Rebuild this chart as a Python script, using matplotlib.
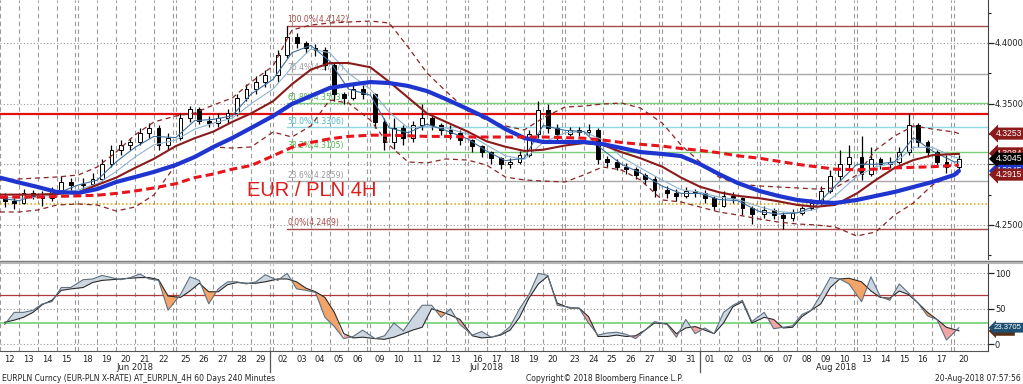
import numpy as np
import pandas as pd
import matplotlib
matplotlib.use("Agg")
import matplotlib.pyplot as plt
from matplotlib.lines import Line2D
from matplotlib.transforms import blended_transform_factory

# ---------------- data ----------------
trading_days = pd.bdate_range("2018-06-12", "2018-08-20")
day_labels = [d.strftime("%d") for d in trading_days]
month_labels = ["Jun 2018", "Jul 2018", "Aug 2018"]

first_open = 4.272
close = [4.270, 4.268, 4.276, 4.274, 4.272, 4.278, 4.285, 4.283, 4.284, 4.288,
         4.300, 4.312, 4.316, 4.318, 4.326, 4.330, 4.316, 4.322, 4.338, 4.346,
         4.336, 4.334, 4.338, 4.342, 4.355, 4.362, 4.368, 4.374, 4.390, 4.405,
         4.400, 4.396, 4.394, 4.382, 4.358, 4.355, 4.362, 4.358, 4.335, 4.318,
         4.330, 4.322, 4.332, 4.338, 4.332, 4.328, 4.326, 4.320, 4.315, 4.310,
         4.305, 4.300, 4.302, 4.308, 4.325, 4.345, 4.330, 4.325, 4.328, 4.327,
         4.328, 4.304, 4.302, 4.298, 4.296, 4.291, 4.288, 4.279, 4.276, 4.274,
         4.278, 4.276, 4.272, 4.266, 4.274, 4.272, 4.264, 4.259, 4.262, 4.258,
         4.256, 4.260, 4.264, 4.268, 4.278, 4.290, 4.300, 4.306, 4.292, 4.304,
         4.300, 4.302, 4.310, 4.332, 4.318, 4.310, 4.302, 4.298, 4.3045]
high = [4.276, 4.274, 4.280, 4.279, 4.278, 4.281, 4.290, 4.289, 4.289, 4.293,
        4.304, 4.316, 4.320, 4.322, 4.330, 4.334, 4.332, 4.326, 4.342, 4.348,
        4.347, 4.340, 4.342, 4.346, 4.358, 4.366, 4.373, 4.378, 4.394, 4.414,
        4.408, 4.402, 4.399, 4.397, 4.384, 4.360, 4.366, 4.365, 4.359, 4.338,
        4.338, 4.332, 4.336, 4.350, 4.340, 4.334, 4.332, 4.328, 4.321, 4.316,
        4.311, 4.306, 4.305, 4.311, 4.328, 4.352, 4.350, 4.333, 4.331, 4.331,
        4.333, 4.330, 4.307, 4.304, 4.301, 4.298, 4.293, 4.290, 4.282, 4.280,
        4.281, 4.280, 4.279, 4.274, 4.278, 4.277, 4.273, 4.266, 4.266, 4.264,
        4.261, 4.263, 4.266, 4.271, 4.282, 4.295, 4.312, 4.316, 4.323, 4.314,
        4.306, 4.306, 4.314, 4.342, 4.334, 4.320, 4.312, 4.308, 4.308]
low = [4.265, 4.263, 4.267, 4.271, 4.266, 4.270, 4.276, 4.279, 4.279, 4.282,
       4.286, 4.298, 4.308, 4.312, 4.316, 4.322, 4.312, 4.312, 4.320, 4.335,
       4.333, 4.331, 4.331, 4.334, 4.340, 4.352, 4.358, 4.364, 4.368, 4.388,
       4.396, 4.392, 4.389, 4.378, 4.352, 4.350, 4.353, 4.354, 4.330, 4.312,
       4.313, 4.316, 4.318, 4.328, 4.328, 4.324, 4.321, 4.316, 4.310, 4.306,
       4.300, 4.296, 4.297, 4.300, 4.306, 4.322, 4.326, 4.318, 4.323, 4.323,
       4.324, 4.300, 4.298, 4.295, 4.292, 4.288, 4.284, 4.273, 4.272, 4.270,
       4.272, 4.273, 4.268, 4.262, 4.265, 4.268, 4.258, 4.251, 4.256, 4.255,
       4.247, 4.253, 4.258, 4.262, 4.266, 4.276, 4.286, 4.296, 4.287, 4.290,
       4.296, 4.297, 4.300, 4.308, 4.314, 4.306, 4.298, 4.293, 4.294]

# indicator lines sampled at each day start (+ last bar)
ma_thick_blue = [4.289, 4.285, 4.2813, 4.2772, 4.2764, 4.2796, 4.2854, 4.2895, 4.2937, 4.2994,
                 4.306, 4.3143, 4.3217, 4.330, 4.3398, 4.3497, 4.3563, 4.3629, 4.3654, 4.3678,
                 4.367, 4.3646, 4.3604, 4.3538, 4.3456, 4.3382, 4.3291, 4.3217, 4.3184, 4.3184,
                 4.3184, 4.3167, 4.3134, 4.3101, 4.3085, 4.3068, 4.3002, 4.292, 4.2846, 4.278,
                 4.2739, 4.2706, 4.2689, 4.2681, 4.2706, 4.2739, 4.2772, 4.2813, 4.2854, 4.2912,
                 4.2945]
ma_red_dashed = [4.273, 4.273, 4.273, 4.2735, 4.274, 4.2745, 4.276, 4.278, 4.2805, 4.284,
                 4.289, 4.292, 4.296, 4.299, 4.307, 4.314, 4.318, 4.321, 4.323, 4.324,
                 4.324, 4.3235, 4.323, 4.323, 4.3225, 4.3225, 4.3225, 4.3225, 4.3225, 4.322,
                 4.3215, 4.320, 4.318, 4.3165, 4.315, 4.313, 4.3115, 4.3095, 4.307, 4.305,
                 4.3025, 4.300, 4.298, 4.296, 4.2955, 4.296, 4.297, 4.2975, 4.298, 4.299,
                 4.2995]
ma_dark_red = [4.275, 4.275, 4.275, 4.2755, 4.277, 4.283, 4.289, 4.297, 4.3045, 4.315,
               4.3215, 4.327, 4.335, 4.342, 4.352, 4.366, 4.378, 4.3835, 4.3835, 4.380,
               4.368, 4.355, 4.342, 4.335, 4.327, 4.319, 4.3145, 4.311, 4.312, 4.3155,
               4.3175, 4.316, 4.310, 4.305, 4.298, 4.289, 4.2815, 4.277, 4.274, 4.272,
               4.2695, 4.2665, 4.265, 4.2665, 4.276, 4.287, 4.297, 4.3035, 4.3075, 4.3085,
               4.3085]
boll_upper = [4.2871, 4.2879, 4.2887, 4.2895, 4.2912, 4.2978, 4.3101, 4.3242, 4.3349, 4.3398,
              4.3423, 4.3489, 4.3547, 4.3678, 4.381, 4.4107, 4.4148, 4.4165, 4.4173, 4.4181,
              4.4165, 4.3967, 4.3753, 4.3604, 4.3439, 4.3365, 4.3316, 4.3283, 4.3382, 4.3472,
              4.348, 4.3497, 4.3505, 4.3464, 4.334, 4.3159, 4.3019, 4.2895, 4.2838, 4.2821,
              4.2813, 4.2805, 4.2796, 4.2805, 4.2912, 4.3118, 4.3233, 4.3316, 4.3291, 4.3266,
              4.3253]
boll_lower = [4.2607, 4.2607, 4.2623, 4.2664, 4.2673, 4.2664, 4.2615, 4.2648, 4.2747, 4.2994,
              4.306, 4.3143, 4.3134, 4.3143, 4.3266, 4.3225, 4.3316, 4.353, 4.3505, 4.3365,
              4.3159, 4.3019, 4.3011, 4.3044, 4.3035, 4.2994, 4.2895, 4.2871, 4.2862, 4.2854,
              4.2912, 4.2978, 4.2953, 4.2871, 4.2706, 4.2689, 4.2648, 4.2607, 4.2582, 4.2549,
              4.2524, 4.2508, 4.2500, 4.2483, 4.2409, 4.2442, 4.2582, 4.2681, 4.2829, 4.2915,
              4.2915]
ma_fast_blue = [4.272, 4.270, 4.275, 4.276, 4.283, 4.287, 4.302, 4.314, 4.323, 4.322,
                4.336, 4.337, 4.340, 4.358, 4.370, 4.392, 4.398, 4.385, 4.362, 4.357,
                4.330, 4.326, 4.333, 4.328, 4.321, 4.311, 4.303, 4.305, 4.332, 4.328,
                4.327, 4.312, 4.300, 4.293, 4.282, 4.276, 4.276, 4.271, 4.270, 4.261,
                4.259, 4.260, 4.266, 4.282, 4.300, 4.300, 4.302, 4.322, 4.311, 4.302,
                4.302]
ma_fast_teal = [4.273, 4.272, 4.273, 4.275, 4.279, 4.284, 4.294, 4.306, 4.316, 4.320,
                4.329, 4.334, 4.338, 4.350, 4.362, 4.380, 4.395, 4.392, 4.375, 4.362,
                4.343, 4.330, 4.331, 4.330, 4.325, 4.316, 4.307, 4.304, 4.318, 4.326,
                4.327, 4.320, 4.306, 4.297, 4.287, 4.279, 4.277, 4.273, 4.271, 4.265,
                4.261, 4.260, 4.263, 4.274, 4.290, 4.298, 4.301, 4.314, 4.314, 4.306,
                4.305]

rsi_fast = [28, 45, 45, 48, 57, 60, 80, 80, 91, 92, 97, 94, 91, 94, 99, 92, 90, 48,
            70, 95, 90, 57, 78, 88, 88, 85, 88, 98, 90, 100, 78, 76, 73, 38, 25, 8,
            11, 20, 8, 12, 30, 19, 38, 55, 55, 38, 50, 28, 13, 18, 10, 14, 25, 50,
            70, 100, 97, 55, 52, 51, 30, 13, 16, 17, 14, 8, 20, 32, 28, 10, 35, 15,
            23, 15, 45, 55, 62, 32, 45, 22, 24, 26, 42, 48, 70, 94, 92, 85, 60, 95,
            67, 62, 85, 72, 58, 40, 35, 6, 23.37]
rsi_slow = [31, 34, 38, 45, 56, 62, 76, 78, 80, 87, 90, 91, 92, 93, 94, 94, 91, 68,
            66, 75, 86, 74, 74, 84, 87, 86, 86, 88, 92, 92, 88, 79, 74, 66, 45, 15,
            9, 10, 8, 7, 10, 15, 20, 24, 50, 46, 41, 35, 12, 9, 10, 13, 20, 38,
            65, 85, 96, 58, 51, 51, 39, 11, 11, 13, 11, 12, 20, 30, 29, 15, 23, 25,
            20, 15, 30, 53, 60, 30, 38, 35, 23, 24, 39, 48, 57, 80, 92, 93, 88, 75,
            66, 65, 75, 70, 58, 45, 35, 24, 19]

fib_values = [4.4142, 4.3747, 4.3503, 4.3306, 4.3105, 4.2859, 4.2469]
fib_pcts = ["100.0%", "76.4%", "61.8%", "50.0%", "38.2%", "23.6%", "0.0%"]
fib_colors = ["#a84848", "#a8a8a8", "#7ccc7c", "#8fd8e4", "#7ccc7c", "#a8a8a8", "#a84848"]
fib_text_colors = ["#a84848", "#9a9a9a", "#4fb04f", "#4fb8c8", "#4fb04f", "#9a9a9a", "#a84848"]
resistance_level = 4.3415
support_level = 4.2673
box_values = {"upper": 4.3253, "ma_red": 4.3084, "last": 4.3045, "ma_blue": 4.2945, "lower": 4.2915}
rsi_box_values = {"fast": 23.3705, "slow": 18.9}

# ---------------- layout ----------------
W, H = 1023, 384
fig = plt.figure(figsize=(W / 100, H / 100), dpi=100)
AX_W = 988
ax = fig.add_axes([0, 1 - 259 / H, AX_W / W, 259 / H])
ax2 = fig.add_axes([0, 1 - 351 / H, AX_W / W, (351 - 264) / H])

n = len(trading_days)
wd = trading_days.weekday
week = np.zeros(n, int)
for i in range(1, n):
    week[i] = week[i - 1] + (1 if wd[i] < wd[i - 1] else 0)
GAP = 3 / 18.86
day_start = np.arange(n) + GAP * week
cx = []
for i in range(n):
    cx += [day_start[i] + 0.25, day_start[i] + 0.75]
cx = np.array(cx[:len(close)])
ma_x = np.append(day_start, day_start[-1] + 0.25)
XMAX = AX_W / 18.86

for a in (ax, ax2):
    a.set_xlim(0, XMAX)
    for s in ("top", "left", "bottom"):
        a.spines[s].set_visible(False)
    a.spines["right"].set_color("#444444")
    a.spines["right"].set_linewidth(0.8)
    a.set_facecolor("white")
    vx = list(day_start)
    for i in range(n - 1):
        if week[i + 1] != week[i]:
            vx.append(day_start[i] + 1)
    for x in vx:
        a.axvline(x, color="#9a9a9a", lw=0.8, ls=(0, (4, 3)), zorder=0.5)

ax2.spines["bottom"].set_visible(True)
ax2.spines["bottom"].set_color("#555555")
ax2.spines["bottom"].set_linewidth(0.8)

# ---------------- main panel ----------------
YTOP = 4.4 + 43 / 1213
YBOT = 4.4 - (259 - 43) / 1213
ax.set_ylim(YBOT, YTOP)
for g in (4.25, 4.30, 4.35, 4.40):
    ax.axhline(g, color="#9a9a9a", lw=0.8, ls=(0, (1, 2)), zorder=0.6)

ax.axhline(resistance_level, color="#e01010", lw=1.6, zorder=2)
ax.axhline(support_level, color="#e0a000", lw=1.1, ls=(0, (1, 1.5)), zorder=2)

peak = int(np.argmax(high))
fx0 = cx[peak]
for v, p, c, tc in zip(fib_values, fib_pcts, fib_colors, fib_text_colors):
    ax.plot([fx0, XMAX], [v, v], color=c, lw=1.0, zorder=1.5)
    ax.text(fx0, v + 0.0012, f"{p}({v:.4f})", color=tc, fontsize=5.5,
            ha="left", va="bottom", zorder=2)

# candles
opens = [first_open] + close[:-1]
for x, o, h, l, c in zip(cx, opens, high, low, close):
    ax.plot([x, x], [l, h], color="black", lw=0.9, zorder=3, solid_capstyle="butt")
bw = 0.2
up = [c >= o for o, c in zip(opens, close)]
bottoms = [min(o, c) for o, c in zip(opens, close)]
heights = [max(abs(c - o), 0.0008) for o, c in zip(opens, close)]
ax.bar(cx, heights, bottom=bottoms, width=bw,
       color=["white" if u else "black" for u in up],
       edgecolor="black", linewidth=0.7, zorder=3.2)

ax.plot(ma_x, boll_upper, color="#8b2626", lw=0.9, ls=(0, (4, 3)), zorder=4)
ax.plot(ma_x, boll_lower, color="#8b2626", lw=0.9, ls=(0, (4, 3)), zorder=4)
ax.plot(ma_x, ma_fast_teal, color="#8fb4cf", lw=0.8, zorder=4.1)
ax.plot(ma_x, ma_fast_blue, color="#3c6f9e", lw=0.8, zorder=4.2)
ax.plot(ma_x, ma_dark_red, color="#8b1a1a", lw=1.5, zorder=4.5)
ax.plot(ma_x, ma_thick_blue, color="#1f35d0", lw=3.0, zorder=4.6, solid_capstyle="round")
ax.plot(ma_x, ma_red_dashed, color="#e8141c", lw=2.2, ls=(0, (2.6, 1.4)), zorder=4.7)

ax.text(247 / AX_W, 1 - 191 / 259, "EUR / PLN 4H", transform=ax.transAxes,
        family="Liberation Sans", fontsize=14.5, color="#dd1c1c", ha="left", va="center", zorder=6)

ax.set_xticks([])
ax.yaxis.tick_right()
ax.set_yticks([4.25, 4.30, 4.35, 4.40])
ax.set_yticklabels(["4.2500", "4.3000", "4.3500", "4.4000"])
ax.set_yticks([4.225, 4.275, 4.325, 4.375, 4.425], minor=True)
ax.tick_params(axis="y", which="major", direction="out", length=4, width=0.9,
               colors="#222222", labelsize=6.0, pad=1)
ax.tick_params(axis="y", which="minor", direction="out", length=2.5, width=0.8, colors="#222222")

btr = blended_transform_factory(ax.transAxes, ax.transData)


def vbox(a, tr, y, txt, fc, z, fs=6.2, x0=1.0075):
    a.text(x0, y, txt, transform=tr, ha="left", va="center", fontsize=fs,
           family="Liberation Sans", color="white", zorder=z, clip_on=False,
           bbox=dict(boxstyle="larrow,pad=0.18", fc=fc, ec=fc, lw=0))


vbox(ax, btr, box_values["upper"], f"{box_values['upper']:.4f}", "#8b1a1a", 10)
vbox(ax, btr, box_values["ma_red"] + 0.0006, f"{box_values['ma_red']:.4f}", "#8b1a1a", 10)
vbox(ax, btr, box_values["ma_blue"], f"{box_values['ma_blue']:.4f}", "#1f35d0", 10)
vbox(ax, btr, box_values["last"], f"{box_values['last']:.4f}", "#000000", 11)
vbox(ax, btr, box_values["lower"], f"{box_values['lower']:.4f}", "#8b1a1a", 12)

# ---------------- RSI panel ----------------
ax2.set_ylim((344.3 - 351) / 0.71, (344.3 - 264) / 0.71)
for g in (0, 50, 100):
    ax2.axhline(g, color="#9a9a9a", lw=0.8, ls=(0, (1, 2)), zorder=0.6)
ax2.axhline(70, color="#b03838", lw=0.9, zorder=1)
ax2.axhline(30, color="#7ad67a", lw=1.3, zorder=1)

rf = np.array(rsi_fast, float)
rs = np.array(rsi_slow, float)
ax2.fill_between(cx, rf, rs, where=rf >= rs, interpolate=True, color="#cdd7e2", lw=0, zorder=1.5)
ax2.fill_between(cx, rf, rs, where=(rf < rs) & (rs >= 40), interpolate=True, color="#f4a468", lw=0, zorder=1.5)
ax2.fill_between(cx, rf, rs, where=(rf < rs) & (rs < 40), interpolate=True, color="#f2a5a5", lw=0, zorder=1.5)
ax2.plot(cx, rs, color="#2a2a2a", lw=0.8, zorder=2)
ax2.plot(cx, rf, color="#5f7080", lw=0.8, zorder=2.1)

ax2.yaxis.tick_right()
ax2.set_yticks([0, 50, 100])
ax2.set_yticklabels(["0", "50", "100"])
ax2.tick_params(axis="y", direction="out", length=4, width=0.9, colors="#222222", labelsize=6.0, pad=1)

btr2 = blended_transform_factory(ax2.transAxes, ax2.transData)
vbox(ax2, btr2, rsi_box_values["slow"], f"{rsi_box_values['slow']:.2f}", "#5a2e12", 10, fs=5.6, x0=1.006)
vbox(ax2, btr2, rsi_box_values["fast"], f"{rsi_box_values['fast']:.4f}", "#1d4f72", 11, fs=5.6, x0=1.006)

ax2.set_xticks(day_start + 0.5)
ax2.set_xticklabels(day_labels)
ax2.tick_params(axis="x", length=0, pad=3, labelsize=6, colors="#222222")

# month labels and separators
xtr = blended_transform_factory(ax2.transData, ax2.transAxes)
months = trading_days.month
um = list(dict.fromkeys(months))
for k, m in enumerate(um):
    idx = np.where(months == m)[0]
    s, e = day_start[idx[0]], day_start[idx[-1]] + 1
    ax2.text((s + e) / 2, -0.19, month_labels[k], transform=xtr, ha="center", va="center",
             fontsize=6, color="#222222")
    if k > 0:
        prev = np.where(months == um[k - 1])[0][-1]
        xs = day_start[prev] + 1
        ax2.plot([xs, xs], [0, -0.245], transform=xtr, color="#555555", lw=0.9, clip_on=False)

# separator between panels
fig.add_artist(Line2D([0, 1], [1 - 260.5 / H] * 2, transform=fig.transFigure, color="#7a7a7a", lw=1.0))
fig.add_artist(Line2D([0, 1], [1 - 262.5 / H] * 2, transform=fig.transFigure, color="#b5b5b5", lw=1.5))

# footer
fig.text(2 / W, 1 - 378.5 / H, "EURPLN Curncy (EUR-PLN X-RATE) AT_EURPLN_4H 60 Days 240 Minutes",
         fontsize=5.5, color="#222222", ha="left", va="center")
fig.text(526 / W, 1 - 378.5 / H, "Copyright\u00a9 2018 Bloomberg Finance L.P.",
         fontsize=5.5, color="#222222", ha="left", va="center")
fig.text(1021 / W, 1 - 378.5 / H, "20-Aug-2018 07:57:56",
         fontsize=5.5, color="#222222", ha="right", va="center")

fig.savefig("out.png", dpi=100)
